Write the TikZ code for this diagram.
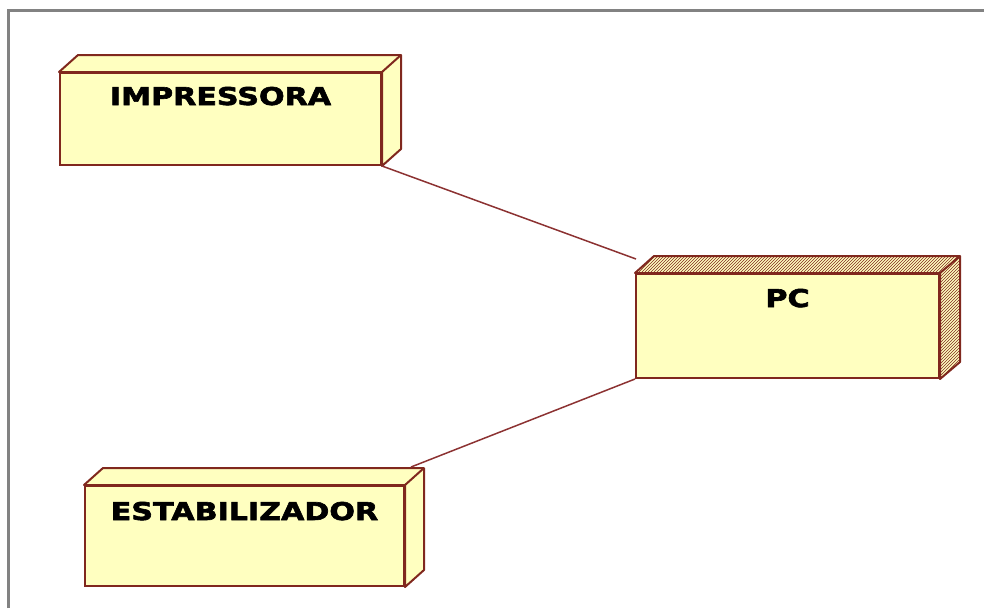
\documentclass[tikz,border=0pt]{standalone}
\usepackage{fontspec}
\newfontfamily\umlfont[FakeStretch=1.23, FakeBold=2.5]{DejaVu Sans}
\usetikzlibrary{calc, patterns}
\definecolor{nodeyellow}{RGB}{255,255,192}
\definecolor{nodered}{RGB}{128,40,30}
\definecolor{linkred}{RGB}{140,50,50}
\definecolor{framegray}{RGB}{130,130,130}
\tikzset{
  umlnode/.style={rectangle, draw=nodered, fill=nodeyellow, line width=2pt,
    inner sep=0pt, anchor=north west, text centered,
    font=\umlfont\bfseries\fontsize{24.5}{28}\selectfont},
  umlside/.style={draw=nodered, fill=nodeyellow, line width=2pt, line join=round},
  hatched/.style={umlside, postaction={pattern=north east lines, pattern color=nodered}},
  link/.style={draw=linkred, line width=1.5pt},
  frame/.style={draw=framegray, line width=3pt}
}

\begin{document}
\begin{tikzpicture}[x=1pt, y=-1pt]
  \useasboundingbox (0,0) rectangle (984,608);
  % window frame
  \draw[frame] (8,608) -- (8,10) -- (984,10);
  % nodes (front faces)
  \node[umlnode, minimum width=321pt, text height=32pt, text depth=60pt] (imp) at (59,72) {IMPRESSORA};
  \node[umlnode, minimum width=303pt, text height=33pt, text depth=71pt] (pc) at (635,273) {PC};
  \node[umlnode, minimum width=319pt, text height=34pt, text depth=66pt] (est) at (84,485) {ESTABILIZADOR};
  % depth faces
  \foreach \n in {imp,est}{
    \draw[umlside] (\n.north west) -- ++(19,-17) -- ($(\n.north east)+(19,-17)$)
      -- ($(\n.south east)+(19,-17)$) -- (\n.south east) -- (\n.north east) -- cycle;
    \draw[umlside] (\n.north east) -- ++(19,-17);
  }
  \draw[hatched] (pc.north west) -- ++(19,-17) -- ($(pc.north east)+(20,-17)$)
    -- ($(pc.south east)+(20,-17)$) -- (pc.south east) -- (pc.north east) -- cycle;
  \draw[umlside] (pc.north east) -- ++(20,-17);
  % connectors
  \coordinate (pcin) at ($(pc.north west)+(1,-14)$);
  \coordinate (estin) at ($(est.north east)+(6,-18)$);
  \draw[link] (imp.south east) -- (pcin);
  \draw[link] (pc.south west) -- (estin);
\end{tikzpicture}
\end{document}
